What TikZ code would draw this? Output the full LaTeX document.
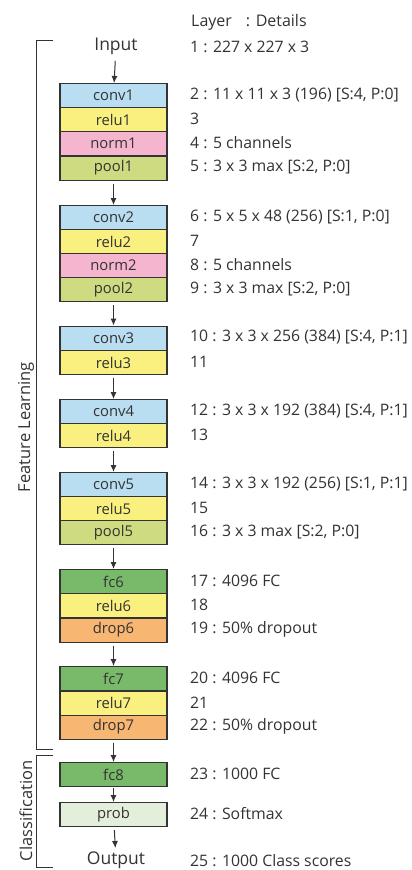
\documentclass[tikz,border=0pt]{standalone}
\usepackage{fontspec}
\setmainfont{Open Sans}
\usetikzlibrary{arrows.meta}
\definecolor{cconv}{HTML}{B9DDF1}
\definecolor{crelu}{HTML}{F9F07F}
\definecolor{cnorm}{HTML}{F5B5CF}
\definecolor{cpool}{HTML}{CFDB80}
\definecolor{cfc}{HTML}{79BA6A}
\definecolor{cdrop}{HTML}{F8B673}
\definecolor{cprob}{HTML}{E3EFDA}
\definecolor{ctxt}{HTML}{333333}
\begin{document}
\begin{tikzpicture}[x=1pt,y=-1pt,
  every node/.style={text=ctxt,font=\fontsize{15.8}{18}\selectfont},
  layer/.style={draw=ctxt,line width=1.2pt,minimum width=107pt,minimum height=24pt,inner sep=0pt,anchor=north,font=\fontsize{14.8}{17}\selectfont},
  det/.style={anchor=west,inner sep=0pt},
  big/.style={font=\fontsize{17.5}{20}\selectfont},
  side/.style={rotate=90,font=\fontsize{16.5}{19}\selectfont},
  arr/.style={-{Latex[length=7pt,width=6pt]},line width=1pt,draw=ctxt,shorten <=3pt},
  brk/.style={draw=ctxt,line width=0.9pt}]
\useasboundingbox (0,0) rectangle (412,870);
\fill[white] (0,0) rectangle (412,870);
% header
\node[det,font=\fontsize{16}{19}\selectfont] (hdr) at (191,22) {Layer\hspace{14pt}: Details};
% input
\node[big] (input) at (116,46) {Input};
\node[det] (d1) at (190,47) {1 : 227 x 227 x 3};
% block 1
\node[layer,fill=cconv] (conv1) at (113.5,83) {conv1};
\node[layer,fill=crelu] (relu1) at (113.5,107) {relu1};
\node[layer,fill=cnorm] (norm1) at (113.5,131) {norm1};
\node[layer,fill=cpool] (pool1) at (113.5,155.5) {pool1};
% block 2
\node[layer,fill=cconv] (conv2) at (113.5,205) {conv2};
\node[layer,fill=crelu] (relu2) at (113.5,229) {relu2};
\node[layer,fill=cnorm] (norm2) at (113.5,253) {norm2};
\node[layer,fill=cpool] (pool2) at (113.5,277) {pool2};
% block 3
\node[layer,fill=cconv] (conv3) at (113.5,325.5) {conv3};
\node[layer,fill=crelu] (relu3) at (113.5,350) {relu3};
% block 4
\node[layer,fill=cconv] (conv4) at (113.5,399) {conv4};
\node[layer,fill=crelu] (relu4) at (113.5,423) {relu4};
% block 5
\node[layer,fill=cconv] (conv5) at (113.5,472) {conv5};
\node[layer,fill=crelu] (relu5) at (113.5,496) {relu5};
\node[layer,fill=cpool] (pool5) at (113.5,520) {pool5};
% block 6
\node[layer,fill=cfc] (fc6) at (113.5,569) {fc6};
\node[layer,fill=crelu] (relu6) at (113.5,593) {relu6};
\node[layer,fill=cdrop] (drop6) at (113.5,617.5) {drop6};
% block 7
\node[layer,fill=cfc] (fc7) at (113.5,666) {fc7};
\node[layer,fill=crelu] (relu7) at (113.5,690.5) {relu7};
\node[layer,fill=cdrop] (drop7) at (113.5,714.5) {drop7};
% classification
\node[layer,fill=cfc] (fc8) at (113.5,762) {fc8};
\node[layer,fill=cprob] (prob) at (113.5,802) {prob};
\node[big] (output) at (116,860) {Output};
% details
\node[det] (d2) at (190,95) {2 : 11 x 11 x 3 (196) [S:4, P:0]};
\node[det] (d3) at (190,119) {3};
\node[det] (d4) at (190,143) {4 : 5 channels};
\node[det] (d5) at (190,167.5) {5 : 3 x 3 max [S:2, P:0]};
\node[det] (d6) at (190,217) {6 : 5 x 5 x 48 (256) [S:1, P:0]};
\node[det] (d7) at (190,241) {7};
\node[det] (d8) at (190,265) {8 : 5 channels};
\node[det] (d9) at (190,289) {9 : 3 x 3 max [S:2, P:0]};
\node[det] (d10) at (190,337.5) {10 : 3 x 3 x 256 (384) [S:4, P:1]};
\node[det] (d11) at (190,362) {11};
\node[det] (d12) at (190,411) {12 : 3 x 3 x 192 (384) [S:4, P:1]};
\node[det] (d13) at (190,435) {13};
\node[det] (d14) at (190,484) {14 : 3 x 3 x 192 (256) [S:1, P:1]};
\node[det] (d15) at (190,508) {15};
\node[det] (d16) at (190,532) {16 : 3 x 3 max [S:2, P:0]};
\node[det] (d17) at (190,581) {17 : 4096 FC};
\node[det] (d18) at (190,605) {18};
\node[det] (d19) at (190,629.5) {19 : 50\% dropout};
\node[det] (d20) at (190,678) {20 : 4096 FC};
\node[det] (d21) at (190,702.5) {21};
\node[det] (d22) at (190,726.5) {22 : 50\% dropout};
\node[det] (d23) at (190,774) {23 : 1000 FC};
\node[det] (d24) at (190,814) {24 : Softmax};
\node[det] (d25) at (190,861) {25 : 1000 Class scores};
% arrows
\draw[arr] (input) -- (conv1);
\draw[arr] (pool1) -- (conv2);
\draw[arr] (pool2) -- (conv3);
\draw[arr] (relu3) -- (conv4);
\draw[arr] (relu4) -- (conv5);
\draw[arr] (pool5) -- (fc6);
\draw[arr] (drop6) -- (fc7);
\draw[arr] (drop7) -- (fc8);
\draw[arr,shorten <=1pt] (fc8) -- (prob);
\draw[arr] (prob) -- (output);
% brackets
\coordinate (fa) at (53,40.5);
\coordinate (fb) at (53,749);
\coordinate (ca) at (53,755);
\coordinate (cb) at (53,867);
\draw[brk] (fa) -| (36,749) -- (fb);
\draw[brk] (ca) -| (36,867) -- (cb);
\node[side] (fl) at (26,427) {Feature Learning};
\node[side] (cl) at (26,811) {Classification};
\end{tikzpicture}
\end{document}
